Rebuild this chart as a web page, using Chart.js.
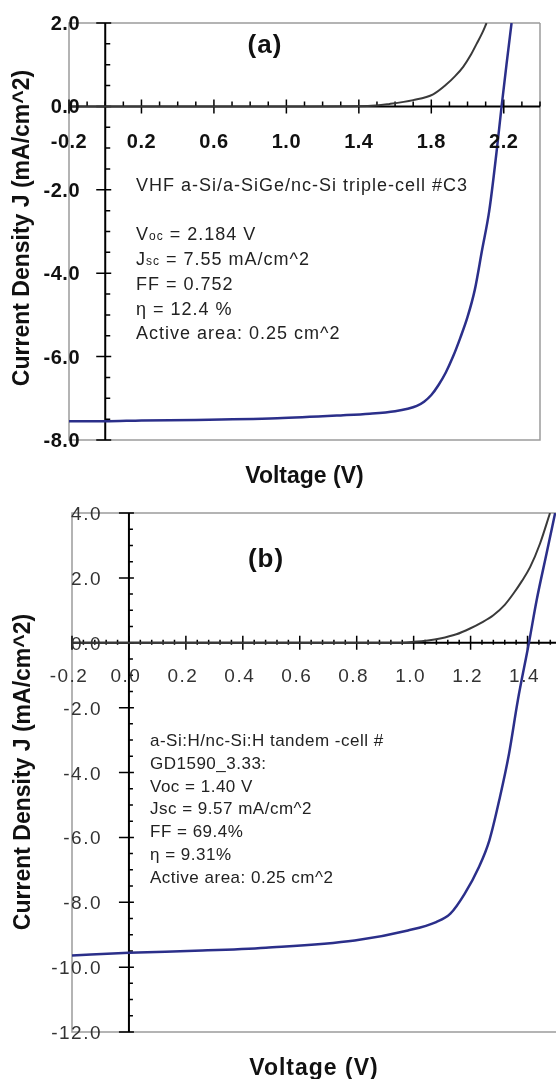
<!DOCTYPE html>
<html>
<head>
<meta charset="utf-8">
<script src="https://cdn.jsdelivr.net/npm/chart.js@4.4.1/dist/chart.umd.min.js"></script>
<style>
html, body { margin: 0; padding: 0; background: #fff; overflow: hidden; }
#wrapA { position: absolute; left: 0; top: 0; width: 556px; height: 492px; }
#wrapB { position: absolute; left: 0; top: 492px; width: 556px; height: 587px; }
</style>
</head>
<body>
<div id="wrapA"><canvas id="chartA" width="556" height="492"></canvas></div>
<div id="wrapB"><canvas id="chartB" width="556" height="587"></canvas></div>
<script>
// (a) VHF triple cell
const voltsDarkA = [-0.2, 0.5, 1.0, 1.45, 1.57, 1.7, 1.81, 1.884, 1.93, 1.976, 2.02, 2.05, 2.08, 2.105];
const jDarkA = [0, 0, 0, 0.01, 0.06, 0.15, 0.29, 0.53, 0.72, 0.95, 1.25, 1.5, 1.75, 2.0];
const voltsLightA = [-0.2, 0, 0.2, 0.5, 0.95, 1.3, 1.46, 1.6, 1.67, 1.72, 1.76, 1.8, 1.84, 1.88, 1.92, 1.96, 2.0, 2.04, 2.08, 2.12, 2.16, 2.188, 2.215, 2.243];
const jLightA = [-7.55, -7.55, -7.53, -7.52, -7.48, -7.41, -7.37, -7.31, -7.25, -7.18, -7.08, -6.92, -6.68, -6.38, -6.0, -5.55, -5.05, -4.4, -3.45, -2.5, -1.1, 0, 1.0, 2.0];
const xTicksA = [-0.2, 0.2, 0.6, 1.0, 1.4, 1.8, 2.2];
const xLabelsA = ['-0.2', '0.2', '0.6', '1.0', '1.4', '1.8', '2.2'];
const yTicksA = [2, 0, -2, -4, -6, -8];
const yLabelsA = ['2.0', '0.0', '-2.0', '-4.0', '-6.0', '-8.0'];
const notesA = ['VHF a-Si/a-SiGe/nc-Si triple-cell #C3', '', 'V_oc = 2.184 V', 'J_sc = 7.55 mA/cm^2', 'FF = 0.752', 'η = 12.4 %', 'Active area: 0.25 cm^2'];

// (b) tandem cell
const voltsDarkB = [-0.2, 0.4, 0.93, 1.0, 1.05, 1.093, 1.15, 1.198, 1.24, 1.28, 1.32, 1.35, 1.38, 1.409, 1.444, 1.479];
const jDarkB = [0, 0, 0, 0.03, 0.07, 0.13, 0.26, 0.44, 0.63, 0.85, 1.17, 1.51, 1.9, 2.33, 3.06, 4.0];
const voltsLightB = [-0.2, 0, 0.257, 0.481, 0.793, 0.98, 1.079, 1.129, 1.179, 1.229, 1.266, 1.303, 1.335, 1.366, 1.405, 1.432, 1.467, 1.497];
const jLightB = [-9.64, -9.56, -9.49, -9.4, -9.18, -8.87, -8.61, -8.35, -7.74, -6.92, -6.09, -4.76, -3.42, -1.77, 0, 1.31, 2.76, 4.0];
const xTicksB = [-0.2, 0, 0.2, 0.4, 0.6, 0.8, 1.0, 1.2, 1.4];
const xLabelsB = ['-0.2', '0.0', '0.2', '0.4', '0.6', '0.8', '1.0', '1.2', '1.4'];
const yTicksB = [4, 2, 0, -2, -4, -6, -8, -10, -12];
const yLabelsB = ['4.0', '2.0', '0.0', '-2.0', '-4.0', '-6.0', '-8.0', '-10.0', '-12.0'];
const notesB = ['a-Si:H/nc-Si:H tandem -cell #', 'GD1590_3.33:', 'Voc = 1.40 V', 'Jsc = 9.57 mA/cm^2', 'FF = 69.4%', 'η = 9.31%', 'Active area: 0.25 cm^2'];

const FONT = '"Liberation Sans", Arial, sans-serif';

function pts(xs, ys) {
    return xs.map((v, i) => ({ x: v, y: ys[i] }));
}

function put(ctx, s, x, y, font, color, align, spacing) {
    ctx.font = font;
    ctx.fillStyle = color;
    ctx.textAlign = align;
    ctx.textBaseline = 'alphabetic';
    ctx.letterSpacing = (spacing || 0) + 'px';
    ctx.fillText(s, x, y);
}

function near(list, v) {
    return list.some(t => Math.abs(t - v) < 1e-6);
}

function jvAxes(cfg) {
    return {
        id: 'jvAxes',
        beforeDatasetsDraw(chart) {
            const { ctx, chartArea: a, scales } = chart;
            const x0 = scales.x.getPixelForValue(0);
            const y0 = scales.y.getPixelForValue(0);
            ctx.save();
            ctx.strokeStyle = '#9c9c9c';
            ctx.lineWidth = 1.5;
            ctx.beginPath();
            ctx.moveTo(a.right, a.top);
            ctx.lineTo(a.left, a.top);
            ctx.lineTo(a.left, a.bottom);
            ctx.lineTo(a.right, a.bottom);
            if (cfg.rightBorder) ctx.lineTo(a.right, a.top);
            ctx.stroke();

            ctx.strokeStyle = '#000';
            ctx.lineWidth = 2;
            ctx.beginPath();
            ctx.moveTo(a.left, y0); ctx.lineTo(a.right, y0);
            ctx.moveTo(x0, a.top); ctx.lineTo(x0, a.bottom);
            ctx.stroke();

            ctx.lineWidth = 1.5;
            ctx.beginPath();
            let n = Math.round((scales.x.max - scales.x.min) / cfg.xStep);
            for (let i = 0; i <= n; i++) {
                const v = scales.x.min + i * cfg.xStep;
                const px = scales.x.getPixelForValue(v);
                const len = near(cfg.xTicks, v) ? cfg.xMajorLen : cfg.xMinorLen;
                ctx.moveTo(px, y0 + len[0]); ctx.lineTo(px, y0 + len[1]);
            }
            n = Math.round((scales.y.max - scales.y.min) / cfg.yStep);
            for (let i = 0; i <= n; i++) {
                const v = scales.y.min + i * cfg.yStep;
                const py = scales.y.getPixelForValue(v);
                const len = near(cfg.yTicks, v) ? cfg.yMajorLen : cfg.yMinorLen;
                ctx.moveTo(x0 + len[0], py); ctx.lineTo(x0 + len[1], py);
            }
            ctx.stroke();
            ctx.restore();
        },
        afterDatasetsDraw(chart) {
            const { ctx, chartArea: a, scales } = chart;
            const y0 = scales.y.getPixelForValue(0);
            ctx.save();
            cfg.xTicks.forEach((v, i) => {
                put(ctx, cfg.xLabels[i], scales.x.getPixelForValue(v) + cfg.xLabelShift, y0 + cfg.xLabelDrop,
                    cfg.tickFont, cfg.tickColor, 'center', cfg.tickSpacing);
            });
            cfg.yTicks.forEach((v, i) => {
                put(ctx, cfg.yLabels[i], cfg.yLabelRight, scales.y.getPixelForValue(v) + 7,
                    cfg.tickFont, cfg.tickColor, 'right', cfg.tickSpacing);
            });

            put(ctx, 'Voltage (V)', (a.left + a.right) / 2, cfg.xTitleY, 'bold 23px ' + FONT, '#111', 'center', cfg.titleSpacing);
            ctx.save();
            ctx.translate(cfg.yTitleX, cfg.yTitleY);
            ctx.rotate(-Math.PI / 2);
            ctx.font = 'bold 23px ' + FONT;
            ctx.fillStyle = '#111';
            ctx.textAlign = 'center';
            ctx.textBaseline = 'middle';
            ctx.letterSpacing = '0px';
            ctx.fillText('Current Density J (mA/cm^2)', 0, 0);
            ctx.restore();

            put(ctx, cfg.panel, cfg.panelX, cfg.panelY, 'bold 26px ' + FONT, '#111', 'center', 1);

            const big = cfg.noteSize + 'px ' + FONT;
            const small = Math.round(cfg.noteSize * 0.68) + 'px ' + FONT;
            cfg.notes.forEach((line, i) => {
                const y = cfg.noteY + i * cfg.noteStep;
                const m = line.match(/^(\w)_(\w+)(.*)$/);
                if (!m) {
                    put(ctx, line, cfg.noteX, y, big, '#222', 'left', cfg.noteSpacing);
                    return;
                }
                let x = cfg.noteX;
                put(ctx, m[1], x, y, big, '#222', 'left', cfg.noteSpacing);
                x += ctx.measureText(m[1]).width;
                put(ctx, m[2], x, y, small, '#222', 'left', cfg.noteSpacing);
                x += ctx.measureText(m[2]).width;
                put(ctx, m[3], x, y, big, '#222', 'left', cfg.noteSpacing);
            });
            ctx.restore();
        }
    };
}

function makeChart(id, dark, light, xRange, yRange, pad, cfg) {
    return new Chart(document.getElementById(id).getContext('2d'), {
        type: 'scatter',
        data: {
            datasets: [
                {
                    label: 'dark',
                    data: dark,
                    showLine: true,
                    borderColor: '#3a3a3a',
                    borderWidth: 2,
                    pointRadius: 0,
                    cubicInterpolationMode: 'monotone'
                },
                {
                    label: 'light',
                    data: light,
                    showLine: true,
                    borderColor: '#2b2f8a',
                    borderWidth: 2.5,
                    pointRadius: 0,
                    cubicInterpolationMode: 'monotone'
                }
            ]
        },
        options: {
            responsive: false,
            animation: false,
            layout: { padding: pad },
            scales: {
                x: { type: 'linear', min: xRange[0], max: xRange[1], display: false },
                y: { type: 'linear', min: yRange[0], max: yRange[1], display: false }
            },
            plugins: {
                legend: { display: false },
                tooltip: { enabled: false }
            }
        },
        plugins: [jvAxes(cfg)]
    });
}

const chartA = makeChart('chartA', pts(voltsDarkA, jDarkA), pts(voltsLightA, jLightA),
    [-0.2, 2.4], [-8, 2], { left: 69, right: 16, top: 23, bottom: 52 }, {
        rightBorder: true,
        xTicks: xTicksA, xLabels: xLabelsA, xStep: 0.1, xMajorLen: [-7, 7], xMinorLen: [-5, 0],
        yTicks: yTicksA, yLabels: yLabelsA, yStep: 0.5, yMajorLen: [-9, 6], yMinorLen: [0, 5],
        tickFont: 'bold 20px ' + FONT, tickColor: '#111', tickSpacing: 0.5,
        xLabelDrop: 42, xLabelShift: 0, yLabelRight: 80,
        xTitleY: 483, yTitleX: 23, yTitleY: 228, titleSpacing: 0,
        panel: '(a)', panelX: 265, panelY: 53,
        notes: notesA, noteX: 136, noteY: 191, noteStep: 24.7, noteSize: 18, noteSpacing: 1
    });

const chartB = makeChart('chartB', pts(voltsDarkB, jDarkB), pts(voltsLightB, jLightB),
    [-0.2, 1.5], [-12, 4], { left: 72, right: 0, top: 21, bottom: 47 }, {
        rightBorder: false,
        xTicks: xTicksB, xLabels: xLabelsB, xStep: 0.04, xMajorLen: [-7, 7], xMinorLen: [-3, 2],
        yTicks: yTicksB, yLabels: yLabelsB, yStep: 0.5, yMajorLen: [-10, 5], yMinorLen: [0, 4],
        tickFont: '19px ' + FONT, tickColor: '#333', tickSpacing: 1.5,
        xLabelDrop: 39, xLabelShift: -3, yLabelRight: 102,
        xTitleY: 583, yTitleX: 24, yTitleY: 280, titleSpacing: 1,
        panel: '(b)', panelX: 266, panelY: 75,
        notes: notesB, noteX: 150, noteY: 254, noteStep: 22.8, noteSize: 17, noteSpacing: 0.5
    });
</script>
</body>
</html>
